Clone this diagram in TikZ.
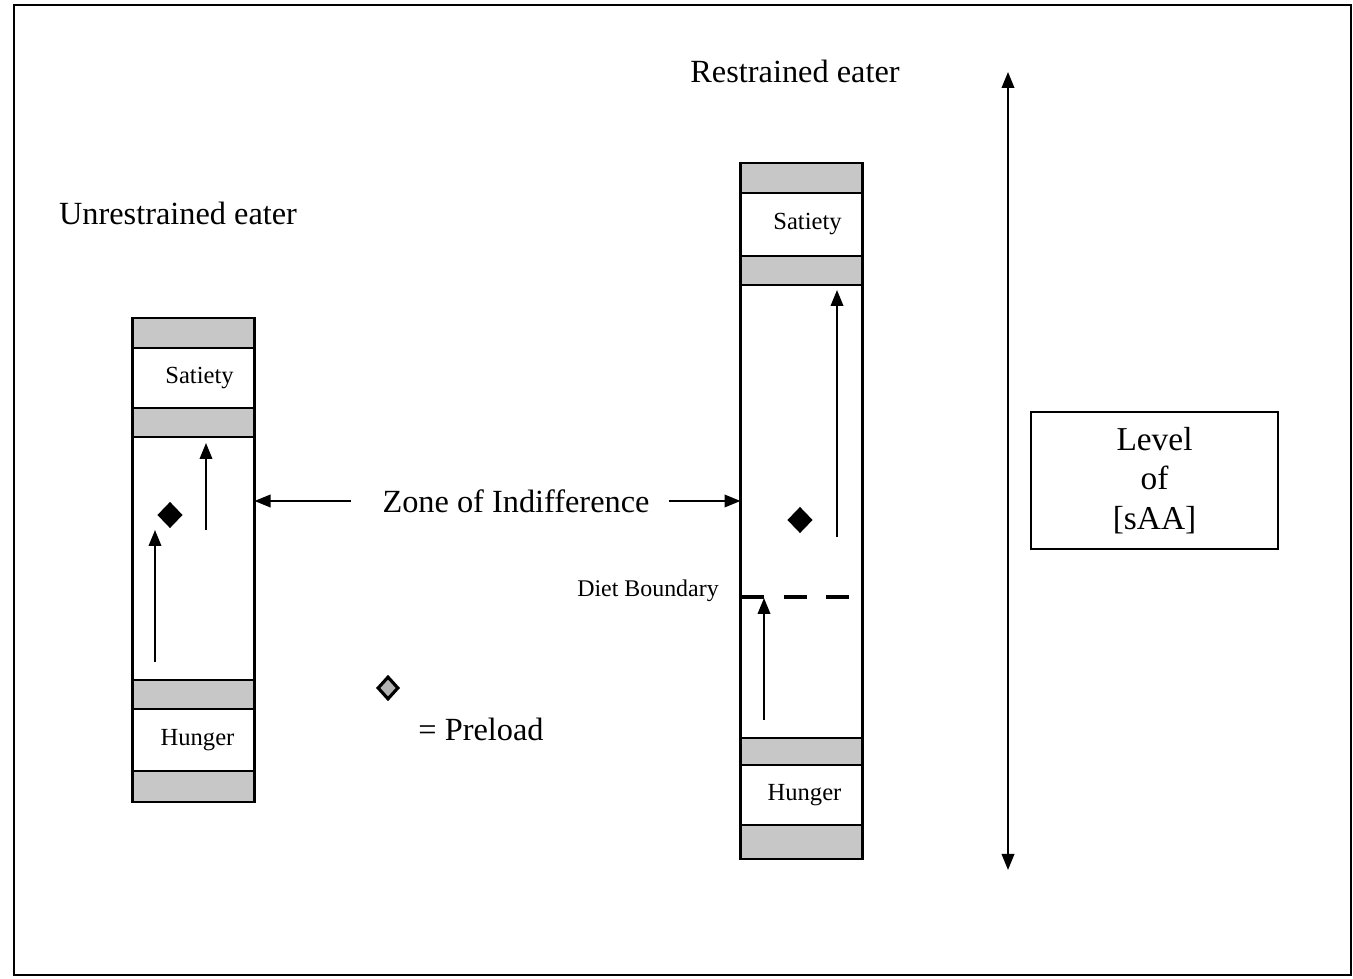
\documentclass[tikz,border=0pt]{standalone}
\usepackage{fontspec}
\setmainfont{Liberation Serif}
\usetikzlibrary{arrows.meta}
\usetikzlibrary{shapes.geometric}
\usetikzlibrary{positioning}

\begin{document}
\begin{tikzpicture}[x=0.1mm,y=-0.1mm,line width=0.6pt,
            >={Triangle[length=1.6mm,width=1.25mm]},
            band/.style={draw,fill=black!22,minimum width=12.2mm,minimum height=3mm,inner sep=0pt,outer sep=0pt},
            cell/.style={draw,fill=white,minimum width=12.2mm,inner sep=0pt,outer sep=0pt,font=\fontsize{7}{8}\selectfont},
            big text/.style={font=\fontsize{9.2}{11}\selectfont,inner sep=0pt},
            small text/.style={font=\fontsize{6.8}{8}\selectfont,inner sep=0pt},
            pre node/.style={diamond,fill=black,minimum width=2.6mm,minimum height=2.7mm,inner sep=0pt},
            key node/.style={diamond,draw,fill=black!30,line width=0.9pt,minimum width=2.1mm,minimum height=2.3mm,inner sep=0pt},
            diet line/.style={line width=1.4pt,dash pattern=on 2.3mm off 1.95mm}
            ]

            \useasboundingbox (0,0) rectangle (1353,979);
            \draw (14,5) rectangle (1351,975);

            \node[big text](utitle) at (178,213){Unrestrained eater};
            \node[big text](rtitle) at (795,71){Restrained eater};

            \node[band,anchor=north](u1) at (193.5,318){};
            \node[cell,minimum height=6mm](usat)[below=0pt of u1]{\kern1.2mm Satiety};
            \node[band,minimum height=2.9mm](u2)[below=0pt of usat]{};
            \node[cell,minimum height=24.3mm](uzone)[below=0pt of u2]{};
            \node[band,minimum height=2.9mm](u3)[below=0pt of uzone]{};
            \node[cell,minimum height=6.2mm](uhun)[below=0pt of u3]{\kern0.8mm Hunger};
            \node[band,minimum height=3.1mm](u4)[below=0pt of uhun]{};

            \node[band,anchor=north](r1) at (801.5,163){};
            \node[cell,minimum height=6.3mm](rsat)[below=0pt of r1]{\kern1.2mm Satiety};
            \node[band,minimum height=2.9mm](r2)[below=0pt of rsat]{};
            \node[cell,minimum height=45.3mm](rzone)[below=0pt of r2]{};
            \node[band,minimum height=2.7mm](r3)[below=0pt of rzone]{};
            \node[cell,minimum height=6mm](rhun)[below=0pt of r3]{\kern0.6mm Hunger};
            \node[band,minimum height=3.4mm](r4)[below=0pt of rhun]{};

            \node[pre node](udia) at (170,515){};
            \node[pre node](rdia) at (800,520){};

            \coordinate (ua1) at (155,662);
            \coordinate (ua2) at (155,530);
            \coordinate (ub1) at (206,530);
            \coordinate (ub2) at (206,443);
            \coordinate (ra1) at (764,720);
            \coordinate (ra2) at (764,598);
            \coordinate (rb1) at (837,537);
            \coordinate (rb2) at (837,290);

            \path[->]
            (ua1) edge (ua2)
            (ub1) edge (ub2)
            (ra1) edge (ra2)
            (rb1) edge (rb2);

            \coordinate (db1) at (741,597);
            \coordinate (db2) at (850,597);
            \draw[diet line] (db1) -- (db2);
            \node[small text](dblab) at (648,591){Diet Boundary};

            \node[big text](zone) at (516,501){Zone of Indifference};
            \draw[->] ([xshift=-3mm]zone.west) -- (uzone.east |- zone.west);
            \draw[->] ([xshift=1.8mm]zone.east) -- (rzone.west |- zone.east);

            \node[key node](kdia) at (388,688){};
            \node[big text](key) at (481,729){= Preload};

            \coordinate (stop) at (1008,72);
            \coordinate (sbot) at (1008,870);
            \draw[<->] (stop) -- (sbot);

            \node[draw,inner sep=0pt,minimum width=24.7mm,minimum height=13.7mm,align=center,
                  font=\fontsize{9.5}{11.2}\selectfont](level) at (1154.5,480.5){Level\\of\\{[sAA]}};

        \end{tikzpicture}
\end{document}
